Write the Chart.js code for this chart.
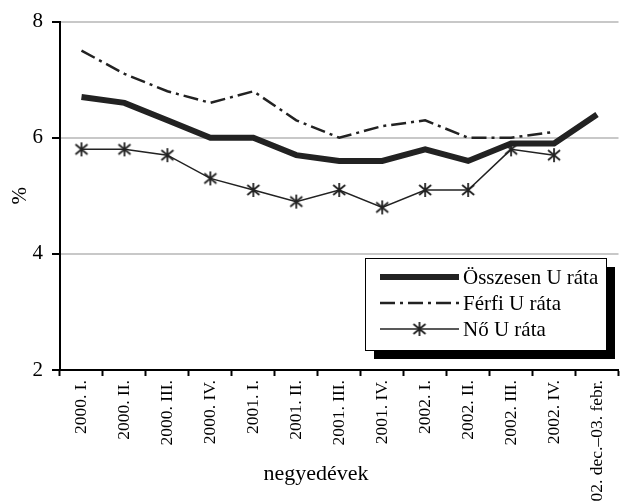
<!DOCTYPE html>
<html>
<head>
<meta charset="utf-8">
<script src="https://cdn.jsdelivr.net/npm/chart.js@4.4.0/dist/chart.umd.min.js"></script>
<style>
  html, body { margin: 0; padding: 0; background: #fff; overflow: hidden; }
  #wrap { position: relative; width: 628px; height: 501px; }
</style>
</head>
<body>
<div id="wrap"><canvas id="c"></canvas></div>
<script>
// Negyedéves munkanélküliségi ráták (%)
const categories = ['2000. I.', '2000. II.', '2000. III.', '2000. IV.',
  '2001. I.', '2001. II.', '2001. III.', '2001. IV.',
  '2002. I.', '2002. II.', '2002. III.', '2002. IV.', '2002. dec.–03. febr.'];
const osszesen = [6.7, 6.6, 6.3, 6.0, 6.0, 5.7, 5.6, 5.6, 5.8, 5.6, 5.9, 5.9, 6.4];
const ferfi    = [7.5, 7.1, 6.8, 6.6, 6.8, 6.3, 6.0, 6.2, 6.3, 6.0, 6.0, 6.1, null];
const no       = [5.8, 5.8, 5.7, 5.3, 5.1, 4.9, 5.1, 4.8, 5.1, 5.1, 5.8, 5.7, null];
const seriesNames = ['Összesen U ráta', 'Férfi U ráta', 'Nő U ráta'];
const xTitle = 'negyedévek';
const yTitle = '%';

const SERIF = "'Liberation Serif', 'Times New Roman', serif";
const INK = '#222';

// Asterisk marker: vertical stroke crossed by an X
function makeAsterisk() {
  const s = 16, cv = document.createElement('canvas');
  cv.width = s; cv.height = s;
  const g = cv.getContext('2d');
  g.strokeStyle = INK; g.lineWidth = 1.8; g.lineCap = 'butt';
  g.beginPath();
  g.moveTo(8, 1); g.lineTo(8, 15);
  g.moveTo(2, 3); g.lineTo(14, 13);
  g.moveTo(14, 3); g.lineTo(2, 13);
  g.stroke();
  return cv;
}
const asterisk = makeAsterisk();

const ferfiDash = [15, 5, 3, 5];

// Framed legend with a solid drop shadow, plus the x-axis title
const decorations = {
  id: 'decorations',
  afterDraw(chart) {
    const ctx = chart.ctx;
    ctx.save();
    const bx = 365, by = 258, bw = 241, bh = 92, sh = 9;
    ctx.fillStyle = '#000';
    ctx.fillRect(bx + sh, by + sh, bw, bh);
    ctx.fillStyle = '#fff';
    ctx.fillRect(bx, by, bw, bh);
    ctx.strokeStyle = '#000';
    ctx.lineWidth = 1;
    ctx.strokeRect(bx + 0.5, by + 0.5, bw, bh);

    const rows = [277, 303, 329];
    const x0 = 380, x1 = 459;
    // Összesen
    ctx.strokeStyle = INK; ctx.lineWidth = 6; ctx.setLineDash([]);
    ctx.beginPath(); ctx.moveTo(x0, rows[0]); ctx.lineTo(x1, rows[0]); ctx.stroke();
    // Férfi
    ctx.lineWidth = 2.5; ctx.setLineDash(ferfiDash);
    ctx.beginPath(); ctx.moveTo(x0, rows[1]); ctx.lineTo(x1, rows[1]); ctx.stroke();
    // Nő
    ctx.setLineDash([]); ctx.lineWidth = 1.5;
    ctx.beginPath(); ctx.moveTo(x0, rows[2]); ctx.lineTo(x1, rows[2]); ctx.stroke();
    ctx.drawImage(asterisk, (x0 + x1) / 2 - 8, rows[2] - 8);

    ctx.fillStyle = '#000';
    ctx.font = '21px ' + SERIF;
    ctx.textAlign = 'left';
    ctx.textBaseline = 'middle';
    seriesNames.forEach((n, i) => ctx.fillText(n, 463, rows[i] + 1));

    ctx.font = '22px ' + SERIF;
    ctx.textAlign = 'center';
    ctx.fillText(xTitle, 316, 474);
    ctx.restore();
  }
};

new Chart(document.getElementById('c'), {
  type: 'line',
  data: {
    labels: categories,
    datasets: [
      { label: seriesNames[0], data: osszesen, borderColor: INK, borderWidth: 6,
        pointRadius: 0, tension: 0, order: 1, borderJoinStyle: 'miter' },
      { label: seriesNames[1], data: ferfi, borderColor: INK, borderWidth: 2.5,
        borderDash: ferfiDash, pointRadius: 0, tension: 0, order: 2 },
      { label: seriesNames[2], data: no, borderColor: INK, borderWidth: 1.5,
        pointStyle: asterisk, pointRadius: 8, tension: 0, order: 0 }
    ]
  },
  options: {
    responsive: true,
    maintainAspectRatio: false,
    devicePixelRatio: 1,
    animation: false,
    layout: { padding: { top: 20, left: 0, right: 0, bottom: 0 } },
    plugins: { legend: { display: false }, tooltip: { enabled: false } },
    scales: {
      x: {
        offset: true,
        grid: { offset: true, drawOnChartArea: false, tickLength: 6, tickColor: '#000', tickWidth: 2 },
        border: { color: '#000', width: 2 },
        ticks: { autoSkip: false, minRotation: 90, maxRotation: 90, padding: 4,
                 color: '#000', font: { family: SERIF, size: 17.5 } },
        afterFit(scale) { scale.height = 131; }
      },
      y: {
        min: 2, max: 8,
        grid: { color: '#c8c8c8', lineWidth: 2, tickLength: 8, tickColor: '#000', tickWidth: 2 },
        border: { color: '#000', width: 2 },
        ticks: { stepSize: 2, padding: 9, color: '#000', font: { family: SERIF, size: 21 } },
        title: { display: true, text: yTitle, color: '#000', padding: { top: 8, bottom: 0 },
                 font: { family: SERIF, size: 21 } },
        afterFit(scale) { scale.width = 60; }
      }
    }
  },
  plugins: [decorations]
});
</script>
</body>
</html>
